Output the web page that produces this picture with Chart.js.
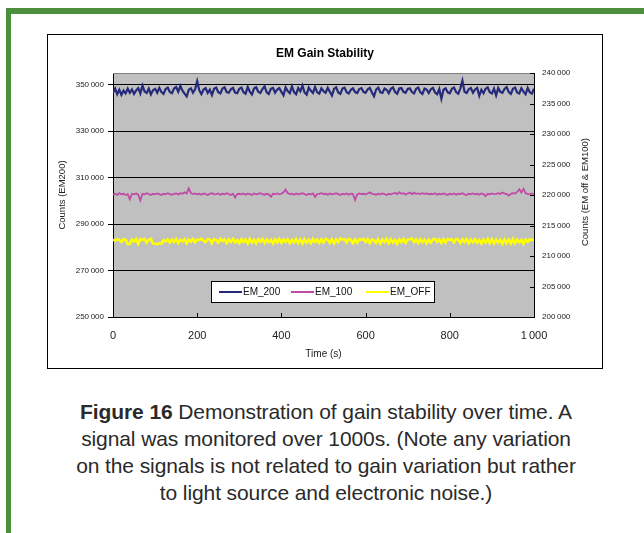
<!DOCTYPE html>
<html>
<head>
<meta charset="utf-8">
<script src="https://cdn.jsdelivr.net/npm/chart.js"></script>
<style>
    body { margin: 0; width: 644px; height: 533px; background: #fff; overflow: hidden; position: relative; font-family: 'Liberation Sans', Arial, sans-serif; }
    #frameTop { position: absolute; left: 6px; top: 8px; width: 638px; height: 6px; background: #4b8e3c; }
    #frameLeft { position: absolute; left: 6px; top: 8px; width: 5px; height: 525px; background: #4b8e3c; }
    #chartBox { position: absolute; left: 47px; top: 34px; width: 554px; height: 333px; border: 1px solid #000; background: #fff; }
    #caption { position: absolute; left: 0px; top: 398px; width: 652px; text-align: center; font-size: 21px; line-height: 27px; color: #2a2a2a; letter-spacing: -0.1px; }
    #caption b { font-weight: 600; }
</style>
</head>
<body>
<div id="frameTop"></div>
<div id="frameLeft"></div>
<div id="chartBox"><canvas id="myChart" width="554" height="333"></canvas></div>
<div id="caption"><b>Figure 16</b> Demonstration of gain stability over time. A<br>signal was monitored over 1000s. (Note any variation<br>on the signals is not related to gain variation but rather<br>to light source and electronic noise.)</div>
<script>
const chartTitle = 'EM Gain Stability';
const xTitle = 'Time (s)';
const leftTitle = 'Counts (EM200)';
const rightTitle = 'Counts (EM off & EM100)';

const seriesNames = ['EM_200', 'EM_100', 'EM_OFF'];
const seriesColors = ['#262a7a', '#c04ca8', '#ffff00'];

const xTicks = [0, 200, 400, 600, 800, 1000];
const leftTicks = [250000, 270000, 290000, 310000, 330000, 350000];
const rightTicks = [200000, 205000, 210000, 215000, 220000, 225000, 230000, 235000, 240000];

const timeS = [
    0, 5, 10, 15, 20, 25, 30, 35, 40, 45, 50, 55, 60, 65, 70, 75, 80, 85, 90, 95,
    100, 105, 110, 115, 120, 125, 130, 135, 140, 145, 150, 155, 160, 165, 170, 175, 180, 185, 190, 195,
    200, 205, 210, 215, 220, 225, 230, 235, 240, 245, 250, 255, 260, 265, 270, 275, 280, 285, 290, 295,
    300, 305, 310, 315, 320, 325, 330, 335, 340, 345, 350, 355, 360, 365, 370, 375, 380, 385, 390, 395,
    400, 405, 410, 415, 420, 425, 430, 435, 440, 445, 450, 455, 460, 465, 470, 475, 480, 485, 490, 495,
    500, 505, 510, 515, 520, 525, 530, 535, 540, 545, 550, 555, 560, 565, 570, 575, 580, 585, 590, 595,
    600, 605, 610, 615, 620, 625, 630, 635, 640, 645, 650, 655, 660, 665, 670, 675, 680, 685, 690, 695,
    700, 705, 710, 715, 720, 725, 730, 735, 740, 745, 750, 755, 760, 765, 770, 775, 780, 785, 790, 795,
    800, 805, 810, 815, 820, 825, 830, 835, 840, 845, 850, 855, 860, 865, 870, 875, 880, 885, 890, 895,
    900, 905, 910, 915, 920, 925, 930, 935, 940, 945, 950, 955, 960, 965, 970, 975, 980, 985, 990, 995, 1000
];

const em200 = [
    346500, 348300, 345900, 347800, 345600, 347400, 346200, 348300, 346500, 347900,
    346000, 347500, 348500, 346200, 349600, 347000, 346400, 348300, 345800, 347600,
    348200, 346500, 348600, 346800, 346000, 348100, 348700, 346800, 346300, 348300,
    349000, 346900, 349500, 347400, 346100, 344900, 347800, 348400, 346500, 348000,
    351500, 347500, 345900, 347900, 348500, 346400, 347800, 345500, 348200, 348700,
    346700, 346200, 348300, 348800, 346800, 346500, 348000, 348600, 346600, 346300,
    348200, 348700, 346700, 346100, 349000, 347000, 345800, 348300, 348900, 346900,
    346400, 348100, 349300, 346700, 346000, 348200, 348600, 346500, 347900, 348500,
    346900, 345400, 348800, 347200, 346300, 349300, 346800, 345900, 348500, 347100,
    349600, 346600, 345700, 348700, 347300, 346400, 349000, 346700, 346100, 348400,
    347200, 346500, 348600, 346900, 345300, 348200, 348900, 346600, 346000, 348300,
    348700, 346700, 346200, 347800, 348400, 346800, 346400, 348100, 348500, 346900,
    346500, 348000, 348600, 346600, 345000, 347900, 348700, 346700, 346400, 348300,
    347800, 346300, 348200, 348800, 346800, 346100, 348300, 348500, 346900, 346500,
    348100, 348400, 346800, 346200, 348200, 348700, 346700, 346000, 348300, 347900,
    346400, 348000, 348600, 346600, 345900, 348100, 343900, 347800, 348400, 346700,
    346300, 348200, 348700, 346800, 346100, 348300, 351700, 346900, 346400, 348000,
    348500, 346500, 347900, 348600, 345200, 347800, 346300, 348200, 348800, 346700,
    346200, 348300, 345400, 348600, 346900, 346500, 348100, 348900, 346800, 346000,
    348200, 348700, 346600, 346200, 348500, 347000, 345900, 348600, 346700, 346100, 348200
];

const em100 = [
    220100, 220200, 220000, 220300, 220100, 220200, 220000, 220150, 219300, 220200,
    220100, 220250, 220050, 219100, 220200, 220100, 220300, 220150, 220000, 220200,
    220100, 220250, 220150, 220000, 220200, 220100, 220300, 220150, 220050, 220200,
    220250, 220100, 220300, 220200, 220450, 220250, 221100, 220300, 220150, 220250,
    220100, 220200, 220050, 220250, 220150, 220000, 220200, 220300, 220100, 220150,
    220250, 220050, 220200, 220100, 220300, 220150, 220000, 220200, 219600, 220150,
    220200, 220100, 220250, 220050, 220200, 220150, 220000, 220250, 220100, 220200,
    220300, 220150, 220050, 220200, 220100, 219700, 220200, 220150, 220250, 220100,
    220200, 220450, 220900, 220300, 220150, 220200, 220050, 220250, 220100, 220200,
    220300, 220150, 220000, 220200, 220100, 220250, 219700, 220150, 220200, 220300,
    220150, 220200, 220050, 220250, 220100, 220200, 220300, 220150, 220000, 220200,
    220100, 220250, 220050, 220200, 220150, 219200, 220100, 220250, 220150, 220200,
    220100, 220250, 220450, 220200, 220150, 220050, 220200, 220100, 220250, 220150,
    220000, 220200, 220100, 220250, 220350, 220150, 220450, 220200, 220300, 220100,
    220250, 220400, 220150, 220350, 220200, 220250, 220150, 220300, 220200, 220250,
    220100, 220200, 220150, 220300, 220050, 220200, 220100, 220250, 220150, 220000,
    220200, 220100, 220250, 220050, 220200, 220150, 220300, 220100, 220000, 220200,
    220150, 220250, 220100, 220200, 220050, 220250, 220150, 219800, 220200, 220100,
    220250, 220150, 220200, 220300, 220150, 220400, 220250, 220150, 219900, 220200,
    220300, 220250, 220500, 220950, 220400, 221000, 220300, 220200, 220150, 220250, 220100
];

const emOff = [
    212700, 212500, 212750, 212600, 212300, 212750, 212650, 211950, 212000, 212700,
    212400, 212800, 212000, 212750, 212650, 212800, 212200, 212700, 212800, 212050,
    212000, 211950, 212100, 212000, 212600, 212400, 212750, 212200, 212700, 212300,
    212800, 212150, 212650, 212400, 212750, 212100, 212700, 212350, 212800, 212250,
    212700, 212600, 212850, 212500, 212300, 212800, 212700, 212100, 212750, 212600,
    212200, 212800, 212450, 212750, 212150, 212700, 212300, 212800, 212250, 212650,
    212100, 212750, 212300, 212700, 212050, 212800, 212200, 212650, 212100, 212750,
    212350, 212800, 212150, 212700, 212300, 212650, 212050, 212750, 212250, 212800,
    212150, 212700, 212300, 212750, 212100, 212650, 212250, 212800, 212150, 212700,
    212050, 212750, 212200, 212650, 212100, 212800, 212300, 212700, 212150, 212750,
    212200, 212800, 212650, 212150, 212750, 212100, 212700, 212300, 212850, 212700,
    212750, 212250, 212800, 212650, 212100, 212700, 212200, 212750, 212650, 212800,
    212300, 212750, 212100, 212700, 212600, 212150, 212750, 212050, 212700, 212300,
    212800, 212100, 212750, 212200, 212650, 212000, 212700, 212250, 212800, 212150,
    212700, 212750, 212850, 212300, 212700, 212150, 212750, 212250, 212700, 212100,
    212650, 212200, 212750, 212800, 212300, 212700, 212150, 212750, 212200, 212800,
    212650, 212750, 212250, 212800, 212700, 212150, 212750, 212300, 212800, 212100,
    212700, 212250, 212750, 212150, 212650, 212050, 212700, 212200, 212800, 212100,
    212750, 212050, 212700, 212200, 212650, 212000, 212750, 212150, 212700, 212050,
    212800, 212100, 212700, 212250, 212650, 212000, 212700, 212300, 212750, 212600, 212700
];

const FONT = "'Liberation Sans', Arial, sans-serif";

function fmtThousands(v) {
    const s = String(v);
    if (s.length <= 3) return s;
    return s.slice(0, s.length - 3) + '\u2009' + s.slice(s.length - 3);
}

function toPoints(ys) {
    return ys.map((y, i) => ({ x: timeS[i], y: y }));
}

const decorPlugin = {
    id: 'decor',
    beforeDraw(chart) {
        const a = chart.chartArea;
        const ctx = chart.ctx;
        ctx.save();
        ctx.fillStyle = '#c0c0c0';
        ctx.fillRect(a.left, a.top, a.right - a.left, a.bottom - a.top);
        ctx.restore();
    },
    afterDraw(chart) {
        const a = chart.chartArea;
        const ctx = chart.ctx;
        ctx.save();

        // top edge of plot
        ctx.strokeStyle = '#808080';
        ctx.lineWidth = 1;
        ctx.beginPath();
        ctx.moveTo(a.left, a.top + 0.5);
        ctx.lineTo(a.right, a.top + 0.5);
        ctx.stroke();

        // inner tick marks
        ctx.strokeStyle = '#000';
        ctx.beginPath();
        xTicks.forEach(v => {
            const px = Math.round(chart.scales.x.getPixelForValue(v)) + 0.5;
            ctx.moveTo(px, a.bottom);
            ctx.lineTo(px, a.bottom - 4);
        });
        rightTicks.forEach(v => {
            const py = Math.round(chart.scales.y1.getPixelForValue(v)) + 0.5;
            ctx.moveTo(a.right, py);
            ctx.lineTo(a.right - 4, py);
        });
        ctx.stroke();

        // titles
        ctx.fillStyle = '#000';
        ctx.textAlign = 'center';
        ctx.textBaseline = 'middle';
        ctx.font = 'bold 12px ' + FONT;
        ctx.fillText(chartTitle, chart.width / 2, 19);

        ctx.fillStyle = '#222';
        ctx.font = '10px ' + FONT;
        ctx.fillText(xTitle, (a.left + a.right) / 2, 319);

        const midY = (a.top + a.bottom) / 2;
        ctx.font = '9.5px ' + FONT;
        ctx.save();
        ctx.translate(14, midY);
        ctx.rotate(-Math.PI / 2);
        ctx.fillText(leftTitle, 0, 0);
        ctx.restore();

        ctx.save();
        ctx.translate(537, midY - 3);
        ctx.rotate(-Math.PI / 2);
        ctx.fillText(rightTitle, 0, 0);
        ctx.restore();

        // legend
        const bx = a.left + 98, by = a.bottom - 36, bw = 223, bh = 21;
        ctx.fillStyle = '#fff';
        ctx.fillRect(bx, by, bw, bh);
        ctx.strokeStyle = '#000';
        ctx.strokeRect(bx + 0.5, by + 0.5, bw, bh);
        const starts = [8, 80, 155];
        ctx.font = '10px ' + FONT;
        ctx.textAlign = 'left';
        seriesNames.forEach((name, i) => {
            const lx = bx + starts[i];
            const ly = by + 11;
            ctx.strokeStyle = seriesColors[i];
            ctx.lineWidth = 2;
            ctx.beginPath();
            ctx.moveTo(lx, ly);
            ctx.lineTo(lx + 23, ly);
            ctx.stroke();
            ctx.fillStyle = '#111';
            ctx.fillText(name, lx + 24, ly + 0.5);
        });

        ctx.restore();
    }
};

const ctx = document.getElementById('myChart').getContext('2d');

const myChart = new Chart(ctx, {
    type: 'line',
    data: {
        datasets: [
            { label: seriesNames[0], data: toPoints(em200), yAxisID: 'y', borderColor: seriesColors[0], borderWidth: 2.2 },
            { label: seriesNames[1], data: toPoints(em100), yAxisID: 'y1', borderColor: seriesColors[1], borderWidth: 1.8 },
            { label: seriesNames[2], data: toPoints(emOff), yAxisID: 'y1', borderColor: seriesColors[2], borderWidth: 2.6 }
        ]
    },
    options: {
        responsive: false,
        animation: false,
        devicePixelRatio: 1,
        layout: { padding: { top: 38, left: 0, right: 0, bottom: 0 } },
        elements: { point: { radius: 0 }, line: { tension: 0 } },
        plugins: {
            legend: { display: false },
            tooltip: { enabled: false },
            title: { display: false }
        },
        scales: {
            x: {
                type: 'linear',
                min: 0,
                max: 1000,
                afterBuildTicks: s => { s.ticks = xTicks.map(v => ({ value: v })); },
                afterFit: s => { s.height = 51; },
                grid: { display: false, drawTicks: false },
                border: { display: true, color: '#000', width: 1 },
                ticks: {
                    maxRotation: 0,
                    padding: 12,
                    color: '#222',
                    font: { family: FONT, size: 11 },
                    callback: v => fmtThousands(v)
                }
            },
            y: {
                position: 'left',
                min: 250000,
                max: 355000,
                afterBuildTicks: s => { s.ticks = leftTicks.map(v => ({ value: v })); },
                afterFit: s => { s.width = 65; },
                grid: { color: '#000', tickLength: 5, lineWidth: 1 },
                border: { display: true, color: '#000', width: 1 },
                ticks: {
                    padding: 4,
                    color: '#222',
                    font: { family: FONT, size: 8 },
                    callback: v => fmtThousands(v)
                }
            },
            y1: {
                position: 'right',
                min: 200000,
                max: 240000,
                afterBuildTicks: s => { s.ticks = rightTicks.map(v => ({ value: v })); },
                afterFit: s => { s.width = 68; },
                grid: { drawOnChartArea: false, drawTicks: false },
                border: { display: true, color: '#000', width: 1 },
                ticks: {
                    padding: 8,
                    color: '#222',
                    font: { family: FONT, size: 8 },
                    callback: v => fmtThousands(v)
                }
            }
        }
    },
    plugins: [decorPlugin]
});
</script>
</body>
</html>
